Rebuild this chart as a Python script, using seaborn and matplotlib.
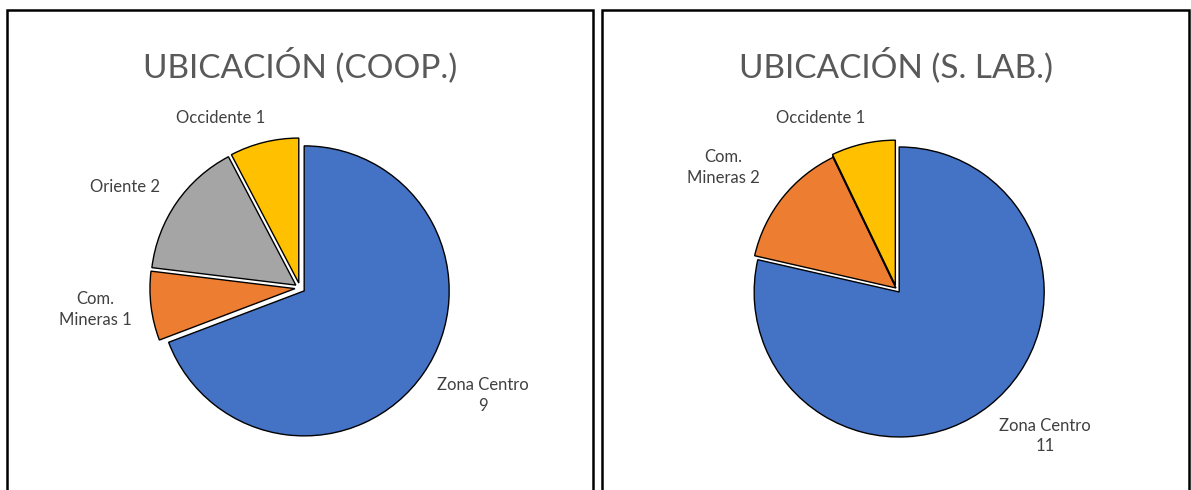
import matplotlib
matplotlib.use("Agg")
import matplotlib.pyplot as plt
import seaborn as sns
from matplotlib.patches import Rectangle

# data
categories_coop = ["Zona Centro", "Com. Mineras", "Oriente", "Occidente"]
values_coop = [9, 1, 2, 1]
categories_slab = ["Zona Centro", "Com. Mineras", "Oriente", "Occidente"]
values_slab = [11, 2, 0, 1]
titles = ["UBICACIÓN (COOP.)", "UBICACIÓN (S. LAB.)"]

sns.set_theme(style="white")
plt.rcParams["font.family"] = ["Lato", "DejaVu Sans"]

palette = sns.color_palette(["#4472C4", "#ED7D31", "#A5A5A5", "#FFC000"])

W, H = 1191, 490
fig = plt.figure(figsize=(W / 100, H / 100), dpi=100)

# panel frames (pixels: left, top, right)
frames = [(7, 10, 593), (602, 10, 1189)]
for x0, y0, x1 in frames:
    fig.patches.append(Rectangle((x0 / W, -0.1), (x1 - x0) / W, 1.1 - y0 / H,
                                 transform=fig.transFigure, fill=False,
                                 edgecolor="black", linewidth=1.8))

# pie layouts
radius_px = 145
centers = [(300, 288), (896, 288)]
explodes = [[0.035, 0.035, 0.035, 0.035], [0.035, 0.0, 0.01, 0.02]]
label_xy = [
    [(1.26, -0.74), (-1.41, -0.15), (-1.21, 0.70), (-0.55, 1.17)],
    [(1.03, -1.02), (-1.19, 0.83), None, (-0.52, 1.17)],
]
datasets = [(categories_coop, values_coop), (categories_slab, values_slab)]


def label_text(cat, v):
    # Excel-style wrapping of the category/value labels
    if cat == "Zona Centro":
        return f"{cat}\n{v}"
    if cat == "Com. Mineras":
        return f"Com.\nMineras {v}"
    return f"{cat} {v}"


L = 1.8
for i, (cats, vals) in enumerate(datasets):
    cx, cy = centers[i]
    half = radius_px * L
    ax = fig.add_axes([(cx - half) / W, (H - cy - half) / H, 2 * half / W, 2 * half / H])
    ax.pie(vals, colors=palette, startangle=90, counterclock=False,
           explode=explodes[i], radius=1,
           wedgeprops=dict(edgecolor="black", linewidth=1.0))
    ax.set_xlim(-L, L)
    ax.set_ylim(-L, L)
    ax.set_aspect("equal")
    ax.axis("off")
    for cat, v, pos in zip(cats, vals, label_xy[i]):
        if v == 0 or pos is None:
            continue
        ax.text(pos[0], pos[1], label_text(cat, v), ha="center", va="center",
                ma="center", fontsize=12, color="#404040", linespacing=1.35)
    fig.text(cx / W, 1 - 77 / H, titles[i], ha="center", va="baseline",
             fontsize=24, color="#595959")

fig.savefig("out.png", dpi=100)
